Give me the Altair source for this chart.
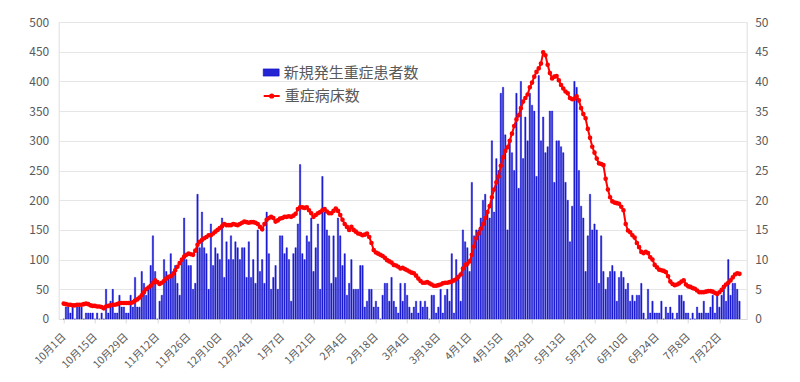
import altair as alt
import pandas as pd

# Daily values from 10月1日 (index 0) to 7月31日 (index 303)
new_severe = [
    0, 2, 2, 1, 2, 0, 2, 2, 2, 0, 1, 1, 1, 1,
    0, 1, 0, 1, 0, 5, 1, 3, 5, 1, 1, 4, 2, 2,
    1, 1, 4, 2, 7, 2, 2, 8, 6, 4, 5, 9, 14, 8,
    0, 3, 4, 10, 8, 7, 11, 8, 9, 6, 4, 10, 17, 10,
    9, 9, 5, 6, 21, 12, 18, 12, 11, 5, 16, 9, 12, 11,
    10, 17, 7, 13, 10, 14, 10, 13, 12, 10, 12, 12, 7, 13,
    7, 10, 6, 15, 8, 10, 6, 18, 11, 5, 7, 9, 5, 14,
    14, 11, 12, 10, 3, 11, 12, 16, 26, 11, 10, 14, 13, 17,
    8, 12, 16, 5, 24, 18, 15, 14, 6, 14, 7, 17, 14, 9,
    11, 4, 6, 10, 5, 5, 5, 9, 9, 2, 3, 5, 5, 2,
    3, 2, 0, 4, 6, 6, 3, 7, 3, 2, 1, 6, 3, 6,
    4, 2, 1, 2, 3, 1, 3, 2, 3, 2, 0, 4, 4, 1,
    2, 5, 1, 4, 5, 3, 11, 1, 10, 7, 3, 15, 13, 12,
    8, 23, 14, 15, 15, 17, 20, 21, 18, 17, 30, 18, 27, 25,
    38, 39, 31, 15, 30, 28, 25, 38, 22, 40, 27, 34, 30, 38,
    36, 35, 24, 41, 30, 34, 28, 29, 35, 35, 23, 30, 30, 29,
    28, 23, 20, 13, 19, 40, 39, 25, 19, 17, 8, 14, 21, 15,
    16, 15, 6, 14, 8, 5, 7, 8, 9, 8, 3, 7, 8, 7,
    5, 6, 3, 4, 3, 4, 4, 6, 1, 0, 5, 1, 3, 1,
    1, 1, 3, 0, 2, 1, 2, 1, 0, 1, 4, 4, 3, 1,
    1, 0, 1, 0, 2, 1, 1, 3, 1, 1, 2, 4, 1, 4,
    2, 4, 5, 3, 10, 4, 6, 6, 5, 3,
]

beds = [
    26, 25, 24, 24, 23, 23, 24, 24, 24, 25, 26, 25, 23, 22,
    22, 21, 21, 20, 18, 21, 22, 23, 24, 24, 25, 27, 27, 27,
    27, 27, 27, 28, 31, 33, 36, 40, 45, 50, 53, 56, 61, 65,
    62, 59, 61, 64, 68, 71, 72, 76, 82, 88, 94, 100, 105, 108,
    110, 109, 108, 115, 125, 130, 133, 136, 138, 141, 141, 144, 147, 150,
    153, 156, 160, 158, 158, 158, 160, 159, 158, 160, 162, 164, 163, 162,
    163, 163, 162, 160, 155, 151, 160, 167, 170, 172, 170, 164, 166, 169,
    170, 172, 172, 173, 172, 174, 177, 185, 188, 188, 187, 188, 183, 178,
    172, 175, 178, 180, 183, 185, 181, 178, 178, 182, 186, 182, 175, 167,
    160, 155, 150, 155, 150, 147, 144, 143, 141, 142, 144, 138, 128, 116,
    112, 110, 108, 106, 103, 99, 97, 95, 91, 90, 88, 85, 86, 84,
    82, 80, 78, 77, 73, 68, 64, 61, 61, 62, 60, 58, 56, 56,
    57, 58, 60, 61, 61, 62, 63, 65, 67, 71, 75, 85, 91, 93,
    97, 108, 122, 136, 144, 152, 160, 170, 180, 190, 205, 218, 230, 240,
    258, 272, 283, 289, 300, 312, 325, 336, 343, 355, 366, 372, 378, 390,
    398, 408, 416, 422, 430, 449, 444, 428, 414, 405, 408, 409, 402, 394,
    388, 383, 380, 372, 370, 371, 375, 368, 355, 345, 338, 320, 305, 290,
    280, 270, 262, 261, 259, 236, 218, 205, 198, 196, 195, 194, 189, 183,
    160, 149, 146, 141, 137, 128, 121, 113, 111, 113, 111, 104, 100, 91,
    87, 83, 82, 81, 79, 72, 63, 59, 57, 58, 60, 63, 65, 58,
    55, 54, 52, 51, 48, 45, 45, 45, 46, 47, 47, 46, 44, 42,
    45, 49, 54, 58, 61, 65, 70, 75, 77, 76,
]

tick_labels = ["10月1日", "10月15日", "10月29日", "11月12日", "11月26日", "12月10日",
               "12月24日", "1月7日", "1月21日", "2月4日", "2月18日", "3月4日",
               "3月18日", "4月1日", "4月15日", "4月29日", "5月13日", "5月27日",
               "6月10日", "6月24日", "7月8日", "7月22日"]

bar_name = "新規発生重症患者数"
line_name = "重症病床数"

n = len(beds)
df = pd.DataFrame({
    "day": list(range(n)),
    "new": new_severe[:n],
    "beds": beds,
    "s1": [bar_name] * n,
    "s2": [line_name] * n,
})

FONT = "Noto Sans CJK JP"
GREY = "#595959"
label_js = "[" + ",".join("'%s'" % t for t in tick_labels) + "]"

xenc = alt.X(
    "day:Q",
    scale=alt.Scale(domain=[0, 304], nice=False, zero=False),
    axis=alt.Axis(
        values=[14 * i for i in range(len(tick_labels))],
        labelExpr=label_js + "[round(datum.value/14)]",
        title=None, grid=False, labelAngle=-45, labelAlign="right",
        labelBaseline="middle", labelPadding=12, tickSize=4,
        tickColor="#d9d9d9", domainColor="#d9d9d9", labelColor=GREY,
        labelFont=FONT, labelFontSize=10.5, labelOverlap=False, labelFlush=False,
    ),
)

bars = alt.Chart(df).mark_bar(width=1.35, stroke="#0000cc", strokeWidth=0.4).encode(
    x=xenc,
    y=alt.Y(
        "new:Q",
        scale=alt.Scale(domain=[0, 50], nice=False),
        axis=alt.Axis(orient="right", values=list(range(0, 55, 5)), grid=False,
                      title=None, domain=False, ticks=False, labelColor=GREY,
                      labelFont=FONT, labelFontSize=12, labelPadding=8),
    ),
    fill=alt.Fill(
        "s1:N",
        scale=alt.Scale(domain=[bar_name], range=["#2424d2"]),
        legend=alt.Legend(
            orient="none", legendX=204, legendY=42, title=None,
            symbolType="M-1,-0.45H1V0.45H-1Z", symbolSize=256,
            symbolStrokeColor="#0000cc", symbolStrokeWidth=0.5,
            labelFont=FONT, labelFontSize=15, labelColor=GREY, labelOffset=4,
            padding=0,
        ),
    ),
)

line = alt.Chart(df).mark_line(
    strokeWidth=2,
    point=alt.OverlayMarkDef(filled=True, size=7, fill="#ff0000", stroke="#ff0000"),
).encode(
    x=xenc,
    y=alt.Y(
        "beds:Q",
        scale=alt.Scale(domain=[0, 500], nice=False),
        axis=alt.Axis(orient="left", values=list(range(0, 550, 50)), grid=True,
                      gridColor="#e6e6e6", title=None, domain=False, ticks=False,
                      labelColor=GREY, labelFont=FONT, labelFontSize=12,
                      labelPadding=10),
    ),
    stroke=alt.Stroke(
        "s2:N",
        scale=alt.Scale(domain=[line_name], range=["#ff0000"]),
        legend=alt.Legend(
            orient="none", legendX=204, legendY=65, title=None,
            symbolType="M-1,0L1,0M-0.2,0A0.2,0.2,0,1,1,0.2,0A0.2,0.2,0,1,1,-0.2,0",
            symbolSize=256, symbolStrokeWidth=2, symbolFillColor="#ff0000",
            labelFont=FONT, labelFontSize=15, labelColor=GREY, labelOffset=4,
            padding=0,
        ),
    ),
)

chart = alt.layer(bars, line).resolve_scale(
    y="independent", fill="independent", stroke="independent"
).properties(
    width=688, height=297,
    autosize=alt.AutoSizeParams(type="none"),
    padding={"left": 50.7, "top": 14, "right": 44, "bottom": 55},
).configure_view(stroke=None).configure(background="white")

chart.save("out.html", embed_options={"renderer": "svg", "actions": False})
